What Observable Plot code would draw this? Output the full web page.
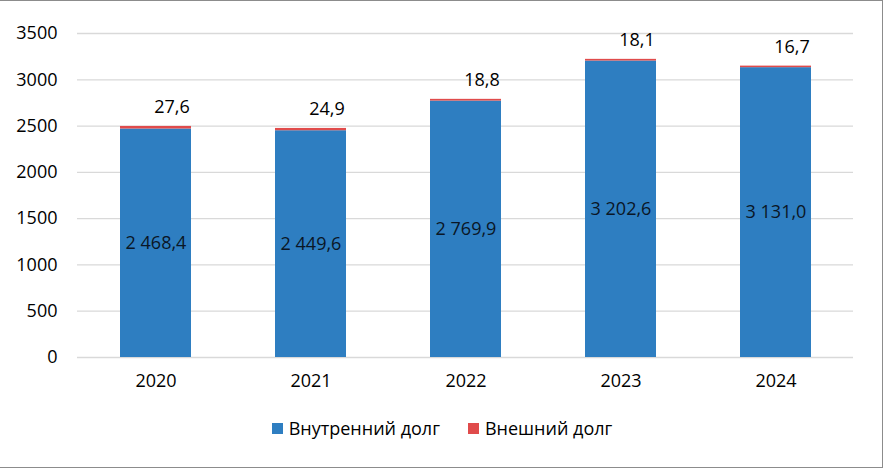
<!DOCTYPE html>
<html>
<head>
<meta charset="utf-8">
<script src="https://cdn.jsdelivr.net/npm/d3@7"></script>
<script src="https://cdn.jsdelivr.net/npm/@observablehq/plot@0.6"></script>
<style>
  html, body { margin: 0; padding: 0; background: #fff; }
  #wrap { position: relative; width: 884px; height: 469px; overflow: hidden; font-family: "Open Sans", "Noto Sans", sans-serif; }
  #frame { position: absolute; left: -3px; top: 0; width: 886px; height: 468px; box-sizing: border-box;
           border: 1.5px solid #8c8c8c; pointer-events: none; }
  #legend { display: flex; justify-content: center; align-items: center; gap: 28px; margin-top: 17px;
            height: 22px; font-size: 18px; color: #000; }
  #legend .item { display: flex; align-items: center; gap: 6px; }
  #legend .sw { width: 11px; height: 11px; display: inline-block; }
</style>
</head>
<body>
<div id="wrap"><div id="chart"></div><div id="legend"></div><div id="frame"></div></div>
<script>
// Data
const years = ["2020", "2021", "2022", "2023", "2024"];
const internalDebt = [2468.4, 2449.6, 2769.9, 3202.6, 3131.0];
const externalDebt = [27.6, 24.9, 18.8, 18.1, 16.7];
const seriesNames = ["Внутренний долг", "Внешний долг"];
const seriesColors = ["#2E7EC1", "#E04B4B"];
const yTicks = [0, 500, 1000, 1500, 2000, 2500, 3000, 3500];

const ru = d3.formatLocale({decimal: ",", thousands: "\u00a0", grouping: [3]});
const fmt = ru.format(",.1f");

const long = [];
years.forEach((y, i) => {
  long.push({year: y, series: seriesNames[0], value: internalDebt[i]});
  long.push({year: y, series: seriesNames[1], value: externalDebt[i]});
});
const rows = years.map((y, i) => ({year: y, internal: internalDebt[i], external: externalDebt[i]}));

const chart = Plot.plot({
  width: 884,
  height: 400,
  marginLeft: 77,
  marginRight: 31,
  marginTop: 33,
  marginBottom: 43,
  style: {fontFamily: "'Open Sans', 'Noto Sans', sans-serif", fontSize: "18px", color: "#000", background: "#fff"},
  x: {domain: years, paddingInner: 0.543, paddingOuter: 0.2715, label: null, tickSize: 0, tickPadding: 17},
  y: {domain: [0, 3500], ticks: yTicks, tickFormat: d => String(d), label: null, tickSize: 0, tickPadding: 20},
  color: {domain: seriesNames, range: seriesColors},
  marks: [
    Plot.gridY(yTicks, {stroke: "#d9d9d9", strokeOpacity: 1, strokeWidth: 1.3}),
    Plot.barY(long, Plot.stackY({order: null}, {x: "year", y: "value", fill: "series"})),
    Plot.text(rows, {x: "year", y: d => d.internal / 2, text: d => fmt(d.internal), fill: "#0a1626", fontSize: 18}),
    Plot.text(rows, {x: "year", y: d => d.internal + d.external, text: d => fmt(d.external), dx: 16, dy: -19, fill: "#000", fontSize: 18})
  ]
});
document.getElementById("chart").appendChild(chart);

const legend = document.getElementById("legend");
seriesNames.forEach((n, i) => {
  const it = document.createElement("span");
  it.className = "item";
  const sw = document.createElement("span");
  sw.className = "sw";
  sw.style.background = seriesColors[i];
  const t = document.createElement("span");
  t.textContent = n;
  it.appendChild(sw); it.appendChild(t);
  legend.appendChild(it);
});
</script>
</body>
</html>
